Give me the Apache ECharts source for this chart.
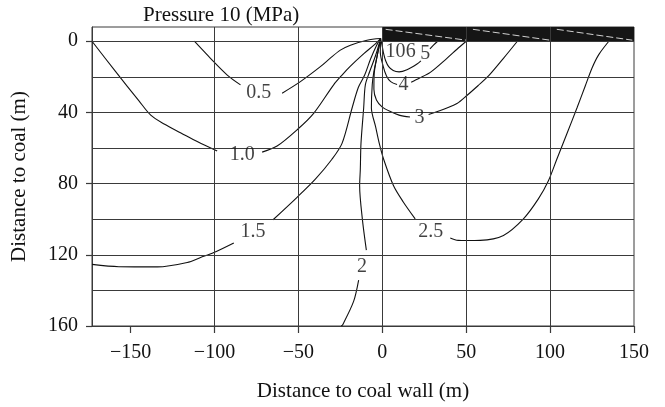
<!DOCTYPE html>
<html>
<head>
<meta charset="utf-8">
<script src="https://cdn.jsdelivr.net/npm/echarts@6/dist/echarts.min.js"></script>
<style>
  html, body { margin: 0; padding: 0; background: #fff; }
  #chart { width: 665px; height: 407px; }
</style>
</head>
<body>
<div id="chart"></div>
<script>
// Axis ticks and grid positions (m)
const xTicks = [-150, -100, -50, 0, 50, 100, 150];
const yTicks = [0, 40, 80, 120, 160];
const xGridLines = [-100, -50, 0, 50, 100];
const yGridLines = [0, 20, 40, 60, 80, 100, 120, 140];

// Coal seam block above the face and its dashed bedding marks
const coalSeam = [[0, -8], [150, 0]];
const seamDashes = [
  [[2, -6.7], [50, -0.6]],
  [[54, -6.7], [100, -0.6]],
  [[104, -6.7], [149, -0.6]]
];

// Pressure isolines (MPa); each is a list of segments broken where its label sits
const iso05 = [
  [[-112, 0], [-102.4, 9.6], [-92.4, 19], [-84.5, 24.5]],
  [[-59.7, 29.2], [-48.8, 22.7], [-36.9, 14.3], [-31, 9.5], [-25, 5], [-19, 2.2], [-9.1, -0.6], [-1, -1.5]]
];
const iso10 = [
  [[-173, 0], [-158.9, 17.1], [-145, 33.5], [-138, 41.5], [-130, 46.5], [-120, 51.5], [-110, 56.5], [-98.4, 61.7]],
  [[-71.6, 62.3], [-62.7, 58.9], [-50.6, 49.6], [-40.9, 40.5], [-29, 24.5], [-24, 19], [-19, 14], [-11, 7], [-5, 2.2], [-1, -1.5]]
];
const iso15 = [
  [[-173, 125.4], [-157, 126.7], [-134, 126.8], [-116.3, 124.3], [-108.3, 121.5], [-100.4, 118.7], [-88.5, 113.3]],
  [[-65.1, 100.3], [-50.8, 87.7], [-39.9, 77.5], [-30, 66.3], [-24, 57.4], [-18, 37.5], [-14.3, 26], [-10.5, 19], [-7, 10], [-3.5, 2.5], [-1, -1.5]]
];
const iso20 = [
  [[-1, -1.5], [-4, 8], [-7.5, 17], [-10.1, 24.5], [-11.1, 37.5], [-12.7, 57.4], [-13.1, 71.9], [-13.5, 81.2], [-11.9, 99.8], [-9.5, 117.4]],
  [[-14.1, 134.2], [-17.1, 146.2], [-23.6, 159.3], [-24.5, 160]]
];
const iso25 = [
  [[-1, -1.5], [-3, 8], [-5, 17], [-6, 24.5], [-6.5, 37.5], [-4, 48], [-1.8, 57.4], [0.8, 66.3], [6.7, 81.2], [12.5, 90.3], [19.6, 99.8]],
  [[40.5, 110.5], [45.2, 111.9], [50.4, 112], [58.3, 111.9], [72.2, 109.1], [84.1, 99.8], [93, 88.6], [99, 78.4], [104, 66.3], [110, 52], [116, 37.5], [121, 25], [125, 15], [129, 7.5], [135, 0]]
];
const iso30 = [
  [[-1, -1.5], [-3, 8], [-4.8, 18], [-5, 27], [-3.5, 33], [0, 37], [4.8, 39.5], [10, 41.5], [16.5, 42.6]],
  [[27.6, 41.2], [38.5, 37.5], [44.5, 35], [50.4, 30.5], [57, 25], [63.3, 19.5], [72.2, 9.6], [80.5, 0]]
];
const iso40 = [
  [[-1, -1.5], [-1.2, 6], [0.5, 14], [2.5, 19.5], [5, 22.7], [8.8, 24.3]],
  [[17.2, 23], [22, 20.8], [28.6, 17.5], [38.5, 9.6], [44.5, 4.5], [50, 0]]
];
const iso50 = [
  [[-1, -1.5], [0, 3], [0.8, 7], [2, 11], [3.8, 14.3], [6.5, 16.5], [10, 17.2], [14.7, 16], [20.7, 12.8], [23, 11]],
  [[28.4, 4.3], [30.5, 2.2], [33, 0]]
];

// Isoline labels: [x, y, text]
const isoLabels = [
  [-73.6, 29.2, '0.5'], [-83.5, 63.9, '1.0'], [-77, 107.2, '1.5'], [-12.1, 126.7, '2'],
  [28.9, 107, '2.5'], [22.2, 43.1, '3'], [12.7, 24.5, '4'], [25.6, 6.9, '5'],
  [17, 6, '6'], [7.8, 6, '10']
];

const FONT = "'Liberation Serif', 'DejaVu Serif', serif";
const INK = '#111';
const GRIDINK = '#3a3a3a';

const fmtMinus = v => (v < 0 ? '\u2212' + Math.abs(v) : String(v));

const series = [];

// coal seam block + grid lines
series.push({
  type: 'line',
  data: coalSeam,
  showSymbol: false,
  lineStyle: { opacity: 0 },
  silent: true,
  z: 1,
  markArea: {
    silent: true,
    itemStyle: { color: '#151515', opacity: 1 },
    data: [[{ xAxis: coalSeam[0][0], yAxis: coalSeam[0][1] }, { xAxis: coalSeam[1][0], yAxis: coalSeam[1][1] }]]
  },
  markLine: {
    silent: true,
    symbol: 'none',
    label: { show: false },
    lineStyle: { color: GRIDINK, width: 1, type: 'solid' },
    data: [
      ...xGridLines.map(v => ({ xAxis: v })),
      ...yGridLines.map(v => ({ yAxis: v }))
    ]
  }
});

seamDashes.forEach(seg => {
  series.push({
    type: 'line',
    data: seg,
    showSymbol: false,
    silent: true,
    z: 3,
    lineStyle: { color: '#d0d0d0', width: 1, type: [7, 3] }
  });
});

[iso05, iso10, iso15, iso20, iso25, iso30, iso40, iso50].forEach(iso => {
  iso.forEach(seg => {
    series.push({
      type: 'line',
      data: seg,
      showSymbol: false,
      smooth: 0.3,
      silent: true,
      z: 4,
      lineStyle: { color: INK, width: 1.1 }
    });
  });
});

series.push({
  type: 'scatter',
  data: isoLabels,
  symbolSize: 1,
  itemStyle: { color: 'rgba(0,0,0,0)' },
  silent: true,
  z: 5,
  label: {
    show: true,
    position: 'inside',
    formatter: p => p.data[2],
    fontFamily: FONT,
    fontSize: 20,
    color: INK
  }
});

const chart = echarts.init(document.getElementById('chart'), null, { renderer: 'canvas' });
chart.setOption({
  animation: false,
  backgroundColor: '#fff',
  title: {
    text: 'Pressure 10 (MPa)',
    left: 138,
    top: 0,
    textStyle: { fontFamily: FONT, fontSize: 21, fontWeight: 'normal', color: INK }
  },
  grid: {
    left: 92, right: 31, top: 27, bottom: 79,
    show: true, borderColor: GRIDINK, borderWidth: 1, backgroundColor: 'transparent'
  },
  xAxis: {
    type: 'value',
    min: -173, max: 150,
    name: 'Distance to coal wall (m)',
    nameLocation: 'middle',
    nameGap: 55,
    nameTextStyle: { fontFamily: FONT, fontSize: 21, color: INK },
    axisLine: { show: true, onZero: false, lineStyle: { color: GRIDINK, width: 1 } },
    axisTick: { show: true, customValues: xTicks, length: 7, lineStyle: { color: GRIDINK, width: 1.2 } },
    axisLabel: { customValues: xTicks, formatter: fmtMinus, fontFamily: FONT, fontSize: 20, color: INK, margin: 17 },
    splitLine: { show: false }
  },
  yAxis: {
    type: 'value',
    inverse: true,
    min: -8, max: 160,
    name: 'Distance to coal (m)',
    nameLocation: 'middle',
    nameGap: 62,
    nameTextStyle: { fontFamily: FONT, fontSize: 21, color: INK },
    axisLine: { show: true, onZero: false, lineStyle: { color: GRIDINK, width: 1 } },
    axisTick: { show: true, customValues: yTicks, length: 6, lineStyle: { color: GRIDINK, width: 1.2 } },
    axisLabel: { customValues: yTicks, fontFamily: FONT, fontSize: 20, color: INK, margin: 14 },
    splitLine: { show: false }
  },
  series: series
});
</script>
</body>
</html>
